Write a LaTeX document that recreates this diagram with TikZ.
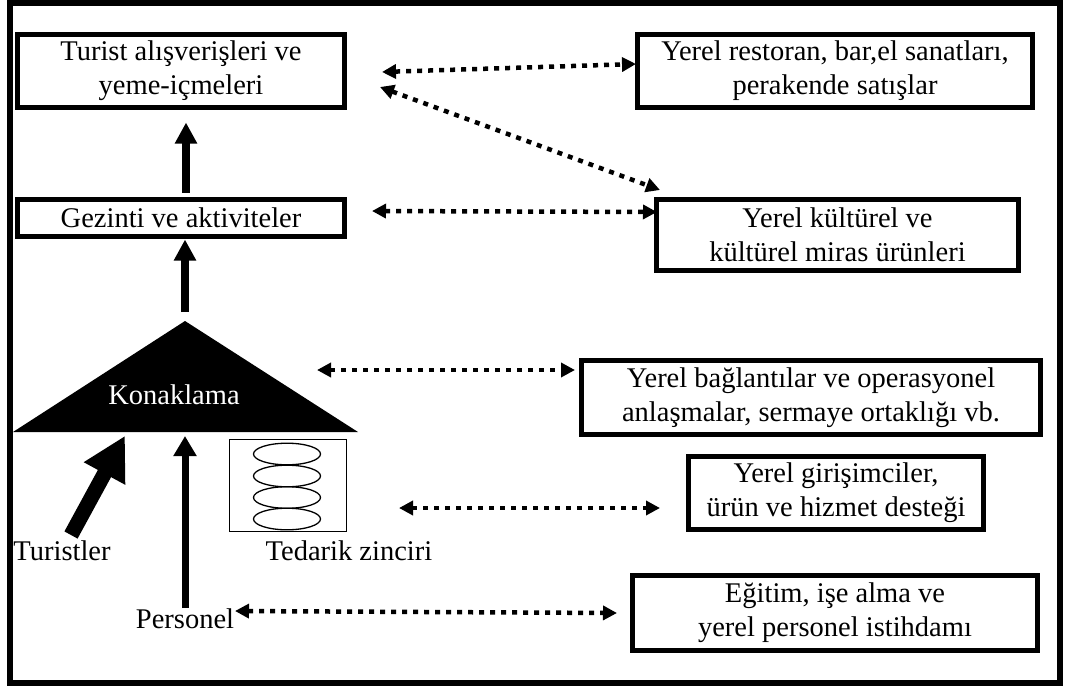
\documentclass[tikz,border=0pt]{standalone}
\usepackage{fontspec}
\setmainfont{Liberation Serif}
\usetikzlibrary{arrows.meta}
\begin{document}
\begin{tikzpicture}[x=1pt,y=-1pt,
  box/.style={draw, line width=5pt, inner sep=0pt, outer sep=0pt, align=center,
    font=\fontsize{28.5}{34}\selectfont},
  lbl/.style={inner sep=0pt, outer sep=0pt, font=\fontsize{28.5}{34}\selectfont},
  blockarrow/.style={line width=8pt, -{Triangle[length=21pt,width=21pt]}},
  dotarrow/.style={line width=4.5pt, dash pattern=on 5pt off 6pt,
    {Triangle[length=14pt,width=14pt]}-{Triangle[length=14pt,width=14pt]}}
]
\useasboundingbox (0,0) rectangle (1065,688);
\fill[white] (0,0) rectangle (1065,688);
% outer frame
\draw[line width=6pt] (10,3) rectangle (1060,683);

% left column boxes
\node[box, minimum width=327pt, minimum height=73pt] (b1) at (181,71) {Turist alışverişleri ve\\yeme-içmeleri};
\node[box, minimum width=327pt, minimum height=37pt] (b2) at (181,218) {Gezinti ve aktiviteler};

% right boxes
\node[box, minimum width=395pt, minimum height=73pt] (r1) at (835,71) {Yerel restoran, bar,el sanatları,\\perakende satışlar};
\node[box, minimum width=362pt, minimum height=71pt] (r2) at (837.5,235) {Yerel kültürel ve\\kültürel miras ürünleri};
\node[box, minimum width=459pt, minimum height=74pt] (r3) at (811,397.5) {Yerel bağlantılar ve operasyonel\\anlaşmalar, sermaye ortaklığı vb.};
\node[box, minimum width=295pt, minimum height=73pt] (r4) at (836,493) {Yerel girişimciler,\\ürün ve hizmet desteği};
\node[box, minimum width=405pt, minimum height=75pt] (r5) at (835,613) {Eğitim, işe alma ve\\yerel personel istihdamı};

% triangle (Konaklama)
\coordinate (apex) at (185,321);
\coordinate (baseL) at (13,432);
\coordinate (baseR) at (358,432);
\fill (baseL) -- (apex) -- (baseR) -- cycle;
\node[lbl, text=white] (konak) at (174,395) {Konaklama};
\coordinate (tipT) at (126,434);

% labels
\node[lbl, anchor=base] (turist) at (62,560) {Turistler};
\node[lbl, anchor=base] (personel) at (185,628) {Personel};
\node[lbl, anchor=base] (tedarik) at (349,560) {Tedarik zinciri};

% supply chain
\node[draw, line width=1.5pt, minimum width=117pt, minimum height=92pt, inner sep=0pt] (supply) at (288,485.5) {};
\foreach \yy in {454,476,497.5,519}
  \draw[line width=1.3pt] (287,\yy) ellipse [x radius=33.5, y radius=10.8];

% solid arrows
\draw[blockarrow, shorten <=7pt, shorten >=15pt] ([xshift=5pt]b2.north) -- ([xshift=5pt]b1.south);
\draw[blockarrow, shorten <=9pt, shorten >=3pt] (apex) -- (apex |- b2.south);
\coordinate (tst) at (71,535);
\draw[line width=15pt, -{Triangle[length=43pt,width=44pt]}, shorten >=2pt] (tst) -- (tipT);
\draw[line width=7pt, -{Triangle[length=20pt,width=22pt]}, shorten >=4pt] (personel.north) -- (personel.north |- baseL);

% dotted arrows
\coordinate (a1s) at (382,72);  \coordinate (a1e) at (636,64);
\coordinate (a2s) at (380,87);  \coordinate (a2e) at (660,190);
\coordinate (a3s) at (372,211); \coordinate (a3e) at (657,212);
\coordinate (a4s) at (317,370); \coordinate (a4e) at (575,370);
\coordinate (a5s) at (399,508); \coordinate (a5e) at (660,508);
\coordinate (a6s) at (235,611); \coordinate (a6e) at (617,613);
\draw[dotarrow] (a1s) -- (a1e);
\draw[dotarrow] (a2s) -- (a2e);
\draw[dotarrow] (a3s) -- (a3e);
\draw[dotarrow] (a4s) -- (a4e);
\draw[dotarrow] (a5s) -- (a5e);
\draw[dotarrow] (a6s) -- (a6e);
\end{tikzpicture}
\end{document}
